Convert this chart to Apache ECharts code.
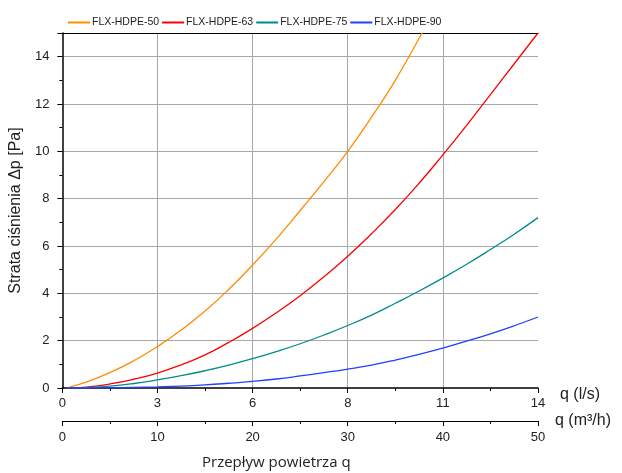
<!DOCTYPE html>
<html>
<head>
<meta charset="utf-8">
<script src="https://cdn.jsdelivr.net/npm/echarts@6/dist/echarts.min.js"></script>
<style>html,body{margin:0;padding:0;background:#fff}#c{width:622px;height:473px}</style>
</head>
<body>
<div id="c"></div>
<script>
// Tick labels
const m3hTicks = ['0', '10', '20', '30', '40', '50'];
const lsTicks = ['0', '3', '6', '8', '11', '14'];
const seriesNames = ['FLX-HDPE-50', 'FLX-HDPE-63', 'FLX-HDPE-75', 'FLX-HDPE-90'];

// Data: [q (m3/h), dp (Pa)]
const hdpe50 = [[0.8,0.05],[2.5,0.25],[5,0.65],[7.5,1.15],[10,1.75],[12.5,2.45],[15,3.25],[17.5,4.17],[20,5.2],[22.5,6.3],[25,7.5],[27.5,8.72],[30,10.0],[32.5,11.45],[35,13.0],[37.8,15.0]];
const hdpe63 = [[0.5,0],[2.5,0.04],[5,0.17],[7.5,0.37],[10,0.63],[12.5,0.98],[15,1.4],[17.5,1.93],[20,2.52],[22.5,3.18],[25,3.9],[27.5,4.7],[30,5.57],[32.5,6.52],[35,7.54],[37.5,8.65],[40,9.85],[42.5,11.1],[45,12.4],[47.5,13.7],[50,15.0]];
const hdpe75 = [[0.5,0],[2.5,0.02],[5,0.08],[7.5,0.19],[10,0.34],[12.5,0.52],[15,0.73],[17.5,0.97],[20,1.24],[22.5,1.54],[25,1.87],[27.5,2.24],[30,2.64],[32.5,3.08],[35,3.58],[37.5,4.1],[40,4.65],[42.5,5.23],[45,5.85],[47.5,6.5],[50,7.2]];
const hdpe90 = [[0.5,0],[2.5,0.0],[5,0.01],[7.5,0.03],[10,0.05],[12.5,0.08],[15,0.13],[17.5,0.2],[20,0.28],[22.5,0.38],[25,0.51],[27.5,0.65],[30,0.8],[32.5,0.97],[35,1.18],[37.5,1.42],[40,1.69],[42.5,1.98],[45,2.29],[47.5,2.63],[50,3.0]];

const colors = ['#ff8c00', '#ff0000', '#008b8b', '#2040ff'];
const allData = [hdpe50, hdpe63, hdpe75, hdpe90];

const chart = echarts.init(document.getElementById('c'), null, {renderer: 'canvas'});
const tickFont = {fontFamily: 'Liberation Sans', fontSize: 13, color: '#222'};

chart.setOption({
  animation: false,
  backgroundColor: '#fff',
  color: colors,
  legend: {
    left: 63, top: 12,
    icon: 'rect',
    itemWidth: 22, itemHeight: 2, itemGap: 3,
    textStyle: {fontFamily: 'Liberation Sans', fontSize: 10.5, color: '#222', padding: [0, 0, 0, -3]},
    data: seriesNames
  },
  grid: {left: 62, right: 84, top: 33, bottom: 85, containLabel: false},
  xAxis: [
    {
      type: 'value', position: 'bottom', offset: 0,
      min: 0, max: 50, interval: 10,
      name: 'q (l/s)', nameLocation: 'end', nameGap: 22,
      nameTextStyle: {fontFamily: 'Liberation Sans', fontSize: 16, color: '#222', verticalAlign: 'top', padding: [-1, 0, 0, 0]},
      axisLine: {show: true, onZero: false, lineStyle: {color: '#000', width: 1.5}},
      axisTick: {show: true, inside: false, length: 5, lineStyle: {color: '#000'}},
      minorTick: {show: true, splitNumber: 2, length: 3, lineStyle: {color: '#000'}},
      axisLabel: {...tickFont, margin: 9, formatter: (v) => lsTicks[Math.round(v / 10)]},
      splitLine: {show: true, showMinLine: false, showMaxLine: false, lineStyle: {color: '#a8a8a8', width: 1}}
    },
    {
      type: 'value', position: 'bottom', offset: 33,
      min: 0, max: 50, interval: 10,
      name: 'q (m³/h)', nameLocation: 'end', nameGap: 17,
      nameTextStyle: {fontFamily: 'Liberation Sans', fontSize: 16, color: '#222'},
      axisLine: {show: true, onZero: false, lineStyle: {color: '#000', width: 1.2}},
      axisTick: {show: true, inside: false, length: 5, lineStyle: {color: '#000'}},
      minorTick: {show: true, splitNumber: 2, length: 3, lineStyle: {color: '#000'}},
      axisLabel: {...tickFont, margin: 10, formatter: (v) => m3hTicks[Math.round(v / 10)]},
      splitLine: {show: false}
    },
    {
      type: 'value', position: 'top', min: 0, max: 50,
      axisLine: {show: true, onZero: false, lineStyle: {color: '#000', width: 1.2}},
      axisTick: {show: false}, axisLabel: {show: false}, splitLine: {show: false}
    }
  ],
  yAxis: {
    type: 'value', min: 0, max: 15, interval: 2,
    name: 'Strata ciśnienia Δp [Pa]', nameLocation: 'middle', nameGap: 33,
    nameTextStyle: {fontFamily: 'Liberation Sans', fontSize: 16, color: '#222'},
    axisLine: {show: true, lineStyle: {color: '#000', width: 1.5}},
    axisTick: {show: true, inside: false, length: 5, lineStyle: {color: '#000'}},
    minorTick: {show: true, splitNumber: 2, length: 3, lineStyle: {color: '#000'}},
    axisLabel: {...tickFont, margin: 13, showMaxLabel: false},
    splitLine: {show: true, showMinLine: false, showMaxLine: false, lineStyle: {color: '#a8a8a8', width: 1}}
  },
  graphic: [{
    type: 'text', left: 202, top: 455,
    style: {text: 'Przepływ powietrza q', fontFamily: 'Open Sans', fontSize: 15, fill: '#222'}
  }],
  series: seriesNames.map((n, i) => ({
    name: n, type: 'line', xAxisIndex: 1,
    data: allData[i],
    symbol: 'none', smooth: 0.5,
    lineStyle: {width: 1.3, color: colors[i]},
    itemStyle: {color: colors[i]},
    z: 3
  }))
});
</script>
</body>
</html>
